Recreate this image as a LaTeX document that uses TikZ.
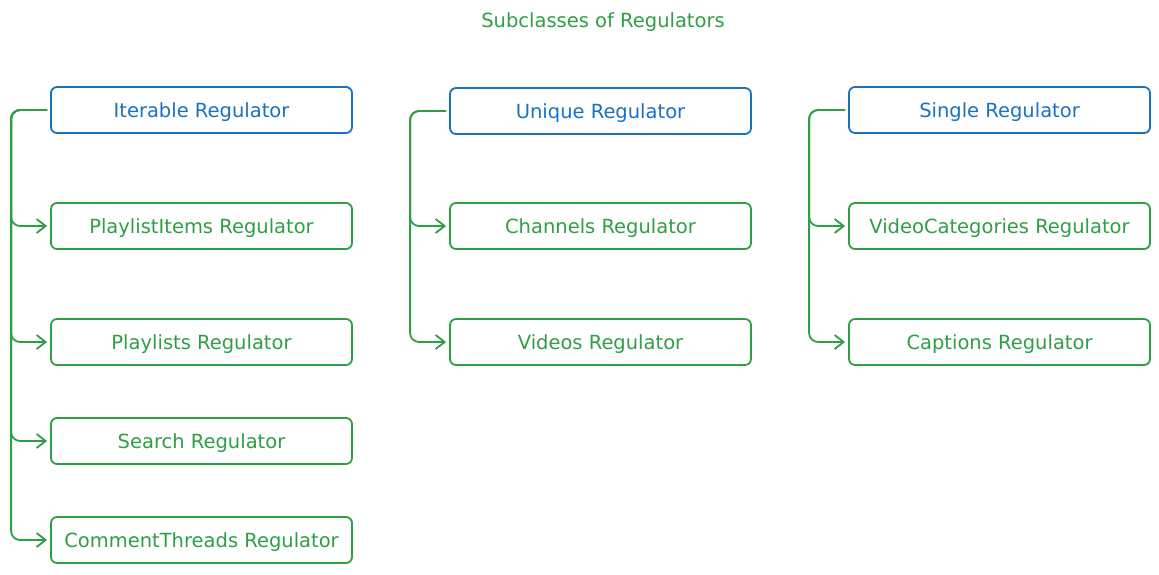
\documentclass[tikz,border=0pt]{standalone}
\usepackage{fontspec}
\setmainfont{DejaVu Sans}
\usetikzlibrary{arrows.meta,positioning}
\definecolor{regblue}{HTML}{1971C2}
\definecolor{reggreen}{HTML}{2F9E44}

\begin{document}
\begin{tikzpicture}[x=1pt,y=-1pt,
    box/.style={draw,rounded corners=6pt,line width=1.8pt,minimum width=301pt,
      minimum height=46pt,font=\fontsize{19.5}{22}\selectfont,text depth=0.05em,
      text=#1,draw=#1},
    base/.style={box=regblue},
    sub/.style={box=reggreen},
    link/.style={draw=reggreen,line width=1.8pt,rounded corners=9pt,shorten >=3pt,
      shorten <=3pt,-{Straight Barb[length=9pt,width=14pt,line width=1.8pt]}}]
  \useasboundingbox (0,0) rectangle (1159,574);
  \node[text=reggreen,font=\fontsize{19.5}{22}\selectfont] (title) at (603,22) {Subclasses of Regulators};

  % iterable
  \node[base] (iter) at (201.5,110) {Iterable Regulator};
  \node[sub] (plitems) at (201.5,226) {PlaylistItems Regulator};
  \node[sub] (plists) at (201.5,342) {Playlists Regulator};
  \node[sub] (search) at (201.5,441) {Search Regulator};
  \node[sub] (cthreads) at (201.5,540) {CommentThreads Regulator};

  % unique
  \node[base] (uniq) at (600.5,111) {Unique Regulator};
  \node[sub] (chan) at (600.5,226) {Channels Regulator};
  \node[sub] (vids) at (600.5,342) {Videos Regulator};

  % single
  \node[base] (single) at (999.5,110) {Single Regulator};
  \node[sub] (vcats) at (999.5,226) {VideoCategories Regulator};
  \node[sub] (capts) at (999.5,342) {Captions Regulator};

  \foreach \c in {plitems,plists,search,cthreads}
    \draw[link] (iter.west) -- ++(-39,0) |- (\c.west);
  \foreach \c in {chan,vids}
    \draw[link] (uniq.west) -- ++(-39,0) |- (\c.west);
  \foreach \c in {vcats,capts}
    \draw[link] (single.west) -- ++(-39,0) |- (\c.west);
\end{tikzpicture}
\end{document}
